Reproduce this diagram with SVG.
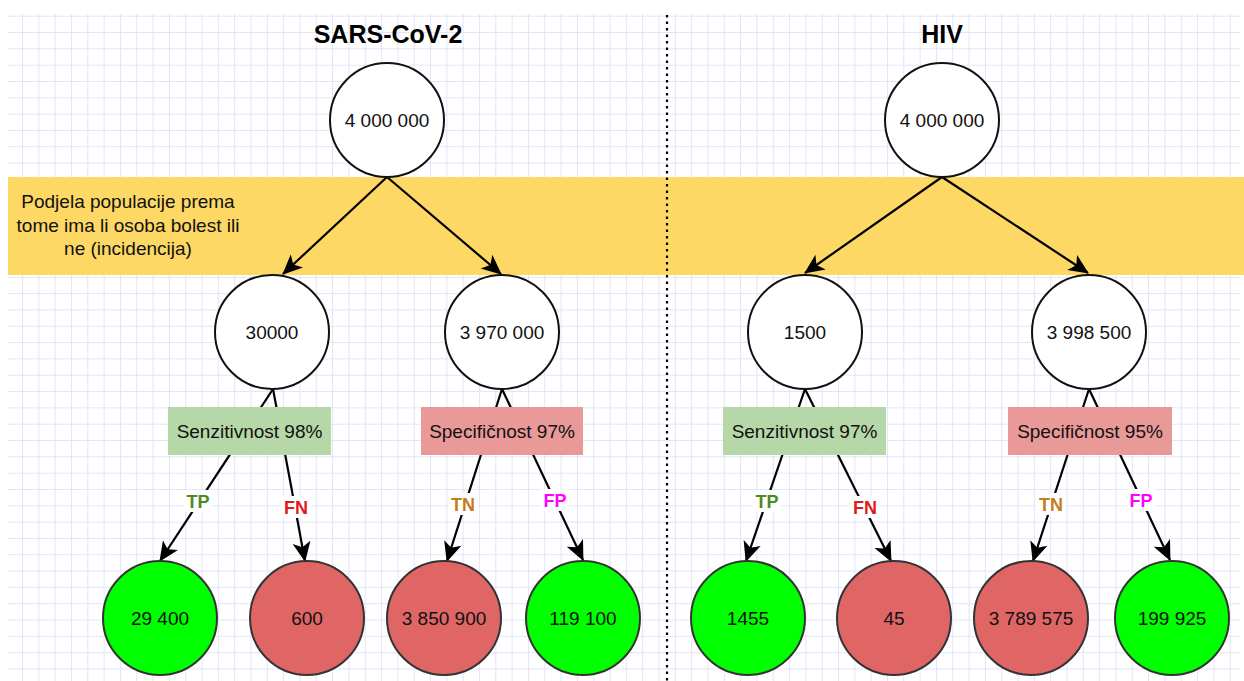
<svg xmlns="http://www.w3.org/2000/svg" width="1244" height="681" viewBox="0 0 1244 681">
<style>
.node circle{stroke-width:2}
.top circle,.mid circle{fill:#ffffff;stroke:#111}
.tp circle{fill:#00ff00;stroke:#333}
.fn circle{fill:#e06666;stroke:#333}
.ctext{font-family:"Liberation Sans",Arial,sans-serif;font-size:19px;fill:#111;text-anchor:middle}
.title{font-family:"Liberation Sans",Arial,sans-serif;font-size:25px;font-weight:bold;fill:#000;text-anchor:middle}
.elabel{font-family:"Liberation Sans",Arial,sans-serif;font-size:18px;font-weight:bold;text-anchor:middle}
.edge{stroke:#000;stroke-width:2.2;fill:none;marker-end:url(#arr)}
.lbg{fill:#ffffff}
</style>
<defs>
<pattern id="grid" x="5.7" y="15.7" width="16.32" height="16.32" patternUnits="userSpaceOnUse">
<path d="M0,0.5 H16.32 M0.5,0 V16.32" stroke="#e3e3fa" stroke-width="1" fill="none"/>
</pattern>
<marker id="arr" markerUnits="userSpaceOnUse" markerWidth="24" markerHeight="24" viewBox="0 0 24 24" refX="20" refY="12" orient="auto">
<path d="M1,3 L21,12 L1,21 L6,12 Z" fill="#000"/>
</marker>
</defs>
<rect x="0" y="0" width="1244" height="681" fill="#ffffff"/>
<rect x="8" y="14" width="1232" height="667" fill="url(#grid)"/>
<rect id="band" x="8" y="177" width="1236" height="98" fill="#fdd865"/>
<g id="band-text">
<text class="ctext" x="128" y="208">Podjela populacije prema</text>
<text class="ctext" x="128" y="232">tome ima li osoba bolest ili</text>
<text class="ctext" x="128" y="255">ne (incidencija)</text>
</g>
<line id="divider" x1="667" y1="15" x2="667" y2="681" stroke="#000" stroke-width="2.2" stroke-dasharray="2.5 4"/>
<text class="title" x="388" y="43">SARS-CoV-2</text>
<text class="title" x="942" y="43">HIV</text>

<g id="connectors">
<line class="edge" x1="387" y1="177" x2="283" y2="274"/>
<line class="edge" x1="387" y1="177" x2="501" y2="274"/>
<line class="edge" x1="942" y1="177" x2="805" y2="273"/>
<line class="edge" x1="942" y1="177" x2="1088" y2="273"/>
<line class="edge" x1="273" y1="389" x2="160" y2="561"/>
<line class="edge" x1="273" y1="389" x2="305" y2="561"/>
<line class="edge" x1="502" y1="389" x2="447" y2="561"/>
<line class="edge" x1="502" y1="389" x2="583" y2="560"/>
<line class="edge" x1="805" y1="389" x2="746" y2="561"/>
<line class="edge" x1="805" y1="389" x2="891" y2="561"/>
<line class="edge" x1="1089" y1="389" x2="1033" y2="561"/>
<line class="edge" x1="1089" y1="389" x2="1170" y2="560"/>
<g id="edge-labels">
<rect class="lbg" x="184" y="490" width="28" height="22"/>
<text class="elabel" x="198" y="508" fill="#4c8a24">TP</text>
<rect class="lbg" x="281" y="496" width="30" height="22"/>
<text class="elabel" x="296" y="514" fill="#e01b1b">FN</text>
<rect class="lbg" x="448" y="493" width="30" height="22"/>
<text class="elabel" x="463" y="511" fill="#c87a1e">TN</text>
<rect class="lbg" x="541" y="489" width="28" height="22"/>
<text class="elabel" x="555" y="507" fill="#ff00ff">FP</text>
<rect class="lbg" x="753" y="490" width="28" height="22"/>
<text class="elabel" x="767" y="508" fill="#4c8a24">TP</text>
<rect class="lbg" x="850" y="496" width="30" height="22"/>
<text class="elabel" x="865" y="514" fill="#e01b1b">FN</text>
<rect class="lbg" x="1036" y="493" width="30" height="22"/>
<text class="elabel" x="1051" y="511" fill="#c87a1e">TN</text>
<rect class="lbg" x="1127" y="489" width="28" height="22"/>
<text class="elabel" x="1141" y="507" fill="#ff00ff">FP</text>
</g>
</g>

<g id="sars-root" class="node top"><circle cx="387" cy="120" r="57"/><text class="ctext" x="387" y="127">4 000 000</text></g>
<g id="hiv-root" class="node top"><circle cx="942" cy="120" r="57"/><text class="ctext" x="942" y="127">4 000 000</text></g>

<g id="sars-pos" class="node mid"><circle cx="272" cy="332" r="57"/><text class="ctext" x="272" y="339">30000</text></g>
<g id="sars-neg" class="node mid"><circle cx="502" cy="332" r="57"/><text class="ctext" x="502" y="339">3 970 000</text></g>
<g id="hiv-pos" class="node mid"><circle cx="805" cy="332" r="57"/><text class="ctext" x="805" y="339">1500</text></g>
<g id="hiv-neg" class="node mid"><circle cx="1089" cy="332" r="57"/><text class="ctext" x="1089" y="339">3 998 500</text></g>

<g id="sars-sens" class="node"><rect x="168" y="407" width="163" height="48" fill="#b6d7a8"/><text class="ctext" x="249.5" y="438">Senzitivnost 98%</text></g>
<g id="sars-spec" class="node"><rect x="421" y="407" width="162" height="48" fill="#ea9999"/><text class="ctext" x="502" y="438">Specifičnost 97%</text></g>
<g id="hiv-sens" class="node"><rect x="723" y="407" width="163" height="48" fill="#b6d7a8"/><text class="ctext" x="804.5" y="438">Senzitivnost 97%</text></g>
<g id="hiv-spec" class="node"><rect x="1008" y="407" width="164" height="48" fill="#ea9999"/><text class="ctext" x="1090" y="438">Specifičnost 95%</text></g>

<g id="sars-tp" class="node tp"><circle cx="160" cy="618" r="57"/><text class="ctext" x="160" y="625">29 400</text></g>
<g id="sars-fn" class="node fn"><circle cx="307" cy="618" r="57"/><text class="ctext" x="307" y="625">600</text></g>
<g id="sars-tn" class="node fn"><circle cx="444" cy="618" r="57"/><text class="ctext" x="444" y="625">3 850 900</text></g>
<g id="sars-fp" class="node tp"><circle cx="583" cy="618" r="57"/><text class="ctext" x="583" y="625">119 100</text></g>
<g id="hiv-tp" class="node tp"><circle cx="748" cy="618" r="57"/><text class="ctext" x="748" y="625">1455</text></g>
<g id="hiv-fn" class="node fn"><circle cx="894" cy="618" r="57"/><text class="ctext" x="894" y="625">45</text></g>
<g id="hiv-tn" class="node fn"><circle cx="1031" cy="618" r="57"/><text class="ctext" x="1031" y="625">3 789 575</text></g>
<g id="hiv-fp" class="node tp"><circle cx="1172" cy="618" r="57"/><text class="ctext" x="1172" y="625">199 925</text></g>
</svg>
